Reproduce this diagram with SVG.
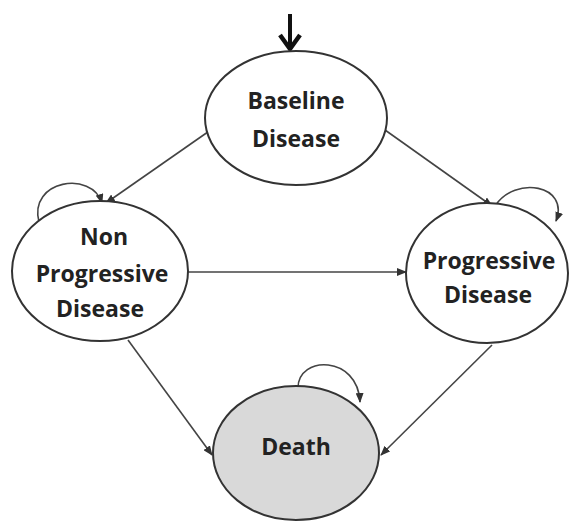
<svg xmlns="http://www.w3.org/2000/svg" width="572" height="521" viewBox="0 0 572 521">
<style>
.node{stroke:#333;stroke-width:2;fill:#fff}
.death{fill:#d9d9d9}
.lbl{font-family:"Open Sans","Liberation Sans",sans-serif;font-weight:bold;font-size:23px;fill:#222;text-anchor:middle}
.edge{stroke:#444;stroke-width:1.6;fill:none;marker-end:url(#ah)}
</style>
<defs>
<marker id="ah" markerWidth="10" markerHeight="8" refX="9" refY="4" orient="auto" markerUnits="userSpaceOnUse">
<path d="M0,0 L10,4 L0,8 z" fill="#333"/>
</marker>
</defs>
<rect width="572" height="521" fill="#fff"/>
<g id="connectors">
<path d="M290,14 V48" stroke="#111" stroke-width="4" fill="none"/>
<path d="M280,35 L290,49 L300,35" stroke="#111" stroke-width="4.5" fill="none"/>
<path class="edge" d="M215,127 L106,203"/>
<path class="edge" d="M378,125 L492,206"/>
<path class="edge" d="M188,272 L406,272"/>
<path class="edge" d="M128,340 L212,455"/>
<path class="edge" d="M492,345 L381,455"/>
<path class="edge" d="M39,222 C28,180 92,170 102,203"/>
<path class="edge" d="M495,206 C515,175 570,185 556,221"/>
<path class="edge" d="M298,388 C298,355 358,355 360,402"/>
</g>
<g id="baseline">
<ellipse class="node" cx="296" cy="118" rx="91" ry="67"/>
<text class="lbl" x="296" y="109">Baseline</text>
<text class="lbl" x="296" y="147">Disease</text>
</g>
<g id="nonprogressive">
<ellipse class="node" cx="100" cy="271" rx="88" ry="70"/>
<text class="lbl" x="104" y="245">Non</text>
<text class="lbl" x="102" y="282">Progressive</text>
<text class="lbl" x="100" y="317">Disease</text>
</g>
<g id="progressive">
<ellipse class="node" cx="487" cy="273" rx="81" ry="70"/>
<text class="lbl" x="489" y="269">Progressive</text>
<text class="lbl" x="488" y="303">Disease</text>
</g>
<g id="death">
<ellipse class="node death" cx="296" cy="453" rx="83" ry="67"/>
<text class="lbl" x="296" y="455">Death</text>
</g>
</svg>
